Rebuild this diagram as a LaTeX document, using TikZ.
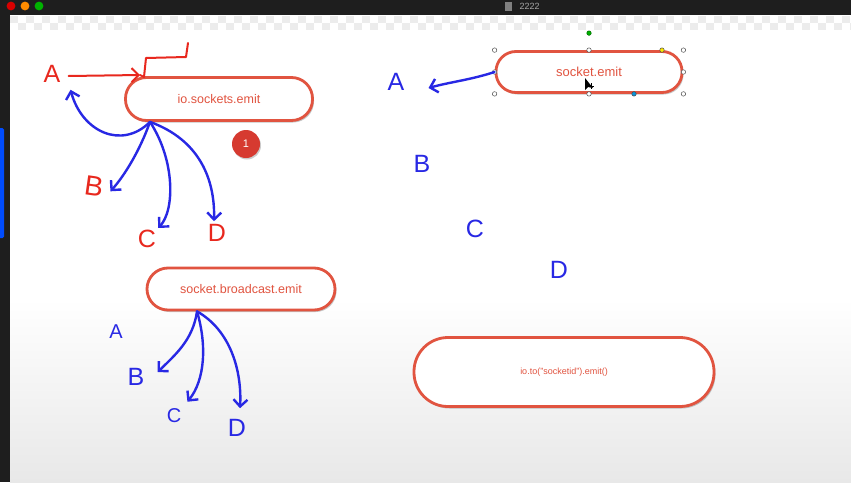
\documentclass[tikz,border=0pt]{standalone}
\usepackage{fontspec}
\setmainfont{Liberation Sans}
\usetikzlibrary{arrows.meta,shadows}
\definecolor{barblack}{RGB}{30,30,30}
\definecolor{boxred}{RGB}{225,84,64}
\definecolor{badgered}{RGB}{214,58,48}
\definecolor{penred}{RGB}{232,40,30}
\definecolor{penblue}{RGB}{40,40,228}
\definecolor{checkgray}{RGB}{236,236,236}
\tikzset{>={Straight Barb[length=7pt,width=14pt]},
	pill/.style={draw=boxred, line width=2.8pt, fill=white, text=boxred, rounded corners=#1,
		drop shadow={shadow xshift=1.5pt, shadow yshift=-2pt, opacity=.45}},
	redpen/.style={text=penred, font=\fontsize{25}{27}\selectfont, inner sep=0pt},
	bluepen/.style={text=penblue, font=\fontsize{25}{27}\selectfont, inner sep=0pt},
	redstroke/.style={draw=penred, line width=2pt, line cap=round, line join=round},
	bluestroke/.style={draw=penblue, line width=2.4pt, line cap=round, line join=round},
	handle/.style={circle, draw=black!70, fill=white, line width=.5pt, inner sep=0pt, minimum size=4.5pt}}
\newcommand\lamp[2]{\fill[#2] (#1,6) circle (4.4);}

\begin{document}
\begin{tikzpicture}[x=1pt,y=-1pt]
	\useasboundingbox (0,0) rectangle (851,482);
	\fill[barblack] (0,0) rectangle (851,482);
	\fill[white] (10,15) rectangle (851,300);
	\shade[top color=white, bottom color=black!9] (10,299) rectangle (851,482);
	\foreach \i in {0,...,52} {\fill[checkgray] (10+\i*16,16) rectangle +(8,7); \fill[checkgray] (18+\i*16,23) rectangle +(8,7);}
	\fill[blue!70!cyan, rounded corners=1.5pt] (-2,128) rectangle (4,238);
	\lamp{11}{red!85!black} \lamp{25}{orange!90!yellow} \lamp{39}{green!70!black}
	\fill[gray] (505,1.5) rectangle (512,10.5);
	\node[text=gray!70, font=\fontsize{9}{10}\selectfont, anchor=west] (title) at (516,6) {2222};

	\node[pill=21pt, minimum width=187pt, minimum height=43pt, font=\fontsize{12.5}{14}\selectfont] (ioall) at (219,99) {io.sockets.emit};
	\node[pill=21pt, minimum width=188pt, minimum height=42pt, font=\fontsize{12.5}{14}\selectfont] (broadcast) at (241,289) {socket.broadcast.emit};
	\node[pill=20pt, minimum width=186pt, minimum height=41pt, font=\fontsize{13}{15}\selectfont] (single) at (589,72) {socket.emit};
	\node[pill=34pt, minimum width=300pt, minimum height=69pt, font=\fontsize{9}{11}\selectfont] (toid) at (564,372) {io.to("socketid").emit()};
	\node[circle, fill=badgered, text=white, minimum size=28pt, font=\fontsize{11}{12}\selectfont,
		drop shadow={shadow xshift=1pt, shadow yshift=-1.5pt, opacity=.4}] (badge) at (246,144) {1};

	\foreach \p/\n in {north west/a, north/b, north east/c, west/d, east/e, south west/f, south/g, south east/h}
		\node[handle] (hd\n) at (single.\p) {};
	\node[handle, fill=green!70!black, draw=green!40!black] (hdrot) at ([yshift=17pt]single.north) {};
	\node[handle, fill=yellow!90!orange] (hdcurve) at ([xshift=73pt]single.north) {};
	\node[handle, fill=cyan!80!blue] (hdlink) at ([xshift=45pt]single.south) {};
	\fill[black] (585,78) -- (585,90) -- (588,87) -- (593,88) -- cycle;
	\draw[black, line width=.6pt] (591,83) -- (591,89) (588,86) -- (594,86);

	\node[redpen] (ra) at (52,74) {A};
	\node[redpen, rotate=-8, font=\fontsize{28}{30}\selectfont] (rb) at (94,186) {B};
	\node[redpen] (rc) at (147,239) {C};
	\node[redpen] (rd) at (217,233) {D};
	\node[bluepen] (ba) at (396,82) {A};
	\node[bluepen] (bb) at (422,164) {B};
	\node[bluepen] (bc) at (475,229) {C};
	\node[bluepen] (bd) at (559,270) {D};
	\node[bluepen, font=\fontsize{20}{22}\selectfont] (ca) at (116,332) {A};
	\node[bluepen] (cb) at (136,377) {B};
	\node[bluepen, font=\fontsize{20}{22}\selectfont] (cc) at (174,416) {C};
	\node[bluepen] (cd) at (237,428) {D};

	\coordinate (redtip) at (140,75);
	\coordinate (ioroot) at ([xshift=-69pt]ioall.south);
	\coordinate (bcroot) at ([xshift=-44pt]broadcast.south);

	\draw[redstroke, ->] ([shift={(8,2)}]ra.east) -- (redtip);
	\draw[redstroke] (redtip) -- (144,77) -- (146,58) -- (186,57) -- (188,43);

	\draw[bluestroke, ->] (ioroot) .. controls (122,150) and (82,132) .. ([shift={(10,7)}]ra.south east);
	\draw[bluestroke, ->] (ioroot) .. controls (140,150) and (125,175) .. ([shift={(7,4)}]rb.east);
	\draw[bluestroke, ->] (ioroot) .. controls (175,160) and (175,210) .. ([shift={(2,-2)}]rc.north east);
	\draw[bluestroke, ->] (ioroot) .. controls (200,140) and (215,180) .. ([shift={(-3,-3)}]rd.north);

	\draw[bluestroke, ->] (single.west) .. controls (470,80) and (450,82) .. ([shift={(24,6)}]ba.east);

	\draw[bluestroke, ->] (bcroot) .. controls (193,340) and (175,355) .. ([shift={(13,4)}]cb.north east);
	\draw[bluestroke, ->] (bcroot) .. controls (207,345) and (205,380) .. ([shift={(6,-7)}]cc.north east);
	\draw[bluestroke, ->] (bcroot) .. controls (230,330) and (242,370) .. ([shift={(3,-11)}]cd.north);
\end{tikzpicture}
\end{document}
